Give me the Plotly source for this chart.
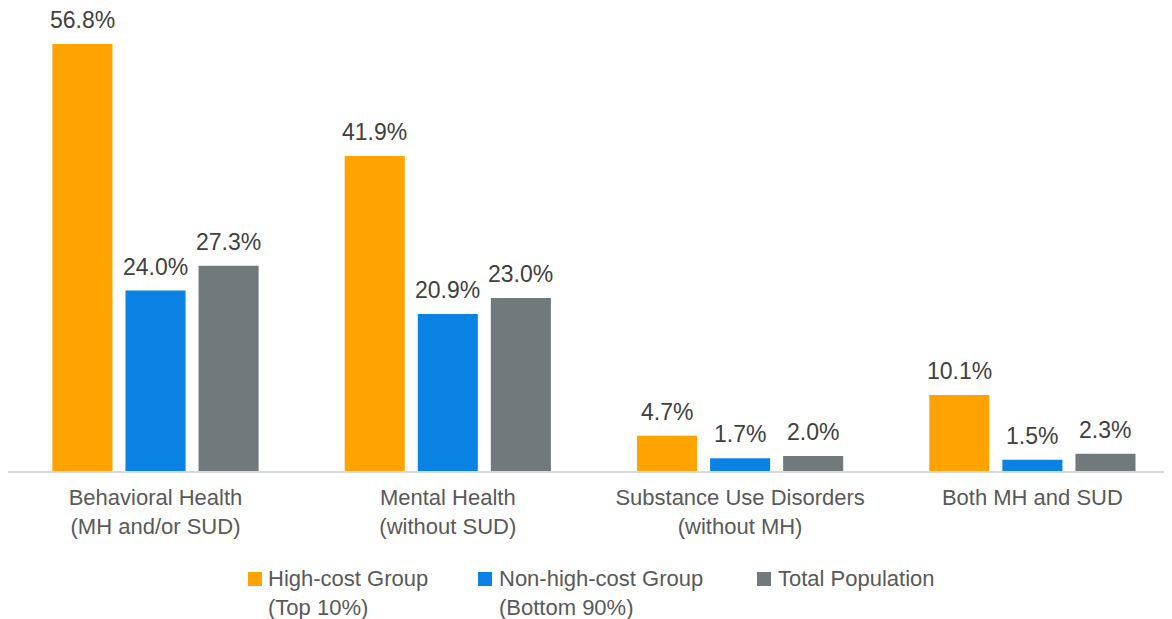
import plotly.graph_objects as go

categories = ["Behavioral Health<br>(MH and/or SUD)", "Mental Health<br>(without SUD)",
              "Substance Use Disorders<br>(without MH)", "Both MH and SUD"]
series_names = ["High-cost Group<br>(Top 10%)", "Non-high-cost Group<br>(Bottom 90%)", "Total Population"]
high_cost = [56.8, 41.9, 4.7, 10.1]
non_high_cost = [24.0, 20.9, 1.7, 1.5]
total_pop = [27.3, 23.0, 2.0, 2.3]
colors = ["#FFA300", "#0A82E3", "#71797C"]

FONT = "Liberation Sans, Arial"
OFF = 8  # page body margin
W, H = 1172 - OFF, 619 - OFF
ML, MR, MT, MB = 0, 0, 12, 148
PW, PH = W - ML - MR, H - MT - MB
slot_px = 292.3
x0 = -(155.5 - OFF - ML) / slot_px
x1 = x0 + PW / slot_px
bar_step_px = 73

fig = go.Figure()
all_series = [high_cost, non_high_cost, total_pop]
for name, vals, col in zip(series_names, all_series, colors):
    fig.add_trace(go.Bar(
        x=list(range(len(categories))), y=vals, name=name,
        marker=dict(color=col, line=dict(width=0)),
        showlegend=False, hoverinfo="skip",
    ))

annotations = []
for si, vals in enumerate(all_series):
    for ci, v in enumerate(vals):
        annotations.append(dict(
            x=ci, y=v, xref="x", yref="y", text=f"{v:.1f}%", showarrow=False,
            xanchor="center", yanchor="bottom", xshift=(si - 1) * bar_step_px, yshift=9,
            font=dict(family=FONT, size=23, color="#404040"),
        ))

def px_x(px):
    return (px - OFF - ML) / PW

def px_y(py):
    return (H - MB - (py - OFF)) / PH

# custom legend (page pixel positions)
leg_sq_x = [248, 478, 757]
leg_txt_x = [266, 497, 776]
shapes = []
for sx, tx, col, name in zip(leg_sq_x, leg_txt_x, colors, series_names):
    shapes.append(dict(type="rect", xref="paper", yref="paper",
                       x0=px_x(sx), x1=px_x(sx + 14), y0=px_y(586), y1=px_y(572),
                       fillcolor=col, line=dict(width=0)))
    annotations.append(dict(
        x=px_x(tx), y=px_y(564), xref="paper", yref="paper", text=name,
        showarrow=False, align="left", xanchor="left", yanchor="top",
        font=dict(family=FONT, size=22, color="#595959"),
    ))

fig.update_layout(
    width=W, height=H,
    margin=dict(l=ML, r=MR, t=MT, b=MB, autoexpand=False),
    paper_bgcolor="white", plot_bgcolor="white",
    barmode="group", bargap=0.25, bargroupgap=1 - 60 / bar_step_px,
    font=dict(family=FONT, size=22, color="#595959"),
    xaxis=dict(range=[x0, x1], tickmode="array", tickvals=list(range(len(categories))),
               ticktext=categories, showline=True, linecolor="#D9D9D9", linewidth=1.5,
               ticks="", showgrid=False, zeroline=False, automargin=False,
               ticklabelstandoff=6,
               tickfont=dict(family=FONT, size=22, color="#595959")),
    yaxis=dict(range=[0, 60], visible=False, automargin=False),
    showlegend=False,
    annotations=annotations, shapes=shapes,
)
fig.write_html("out.html")
